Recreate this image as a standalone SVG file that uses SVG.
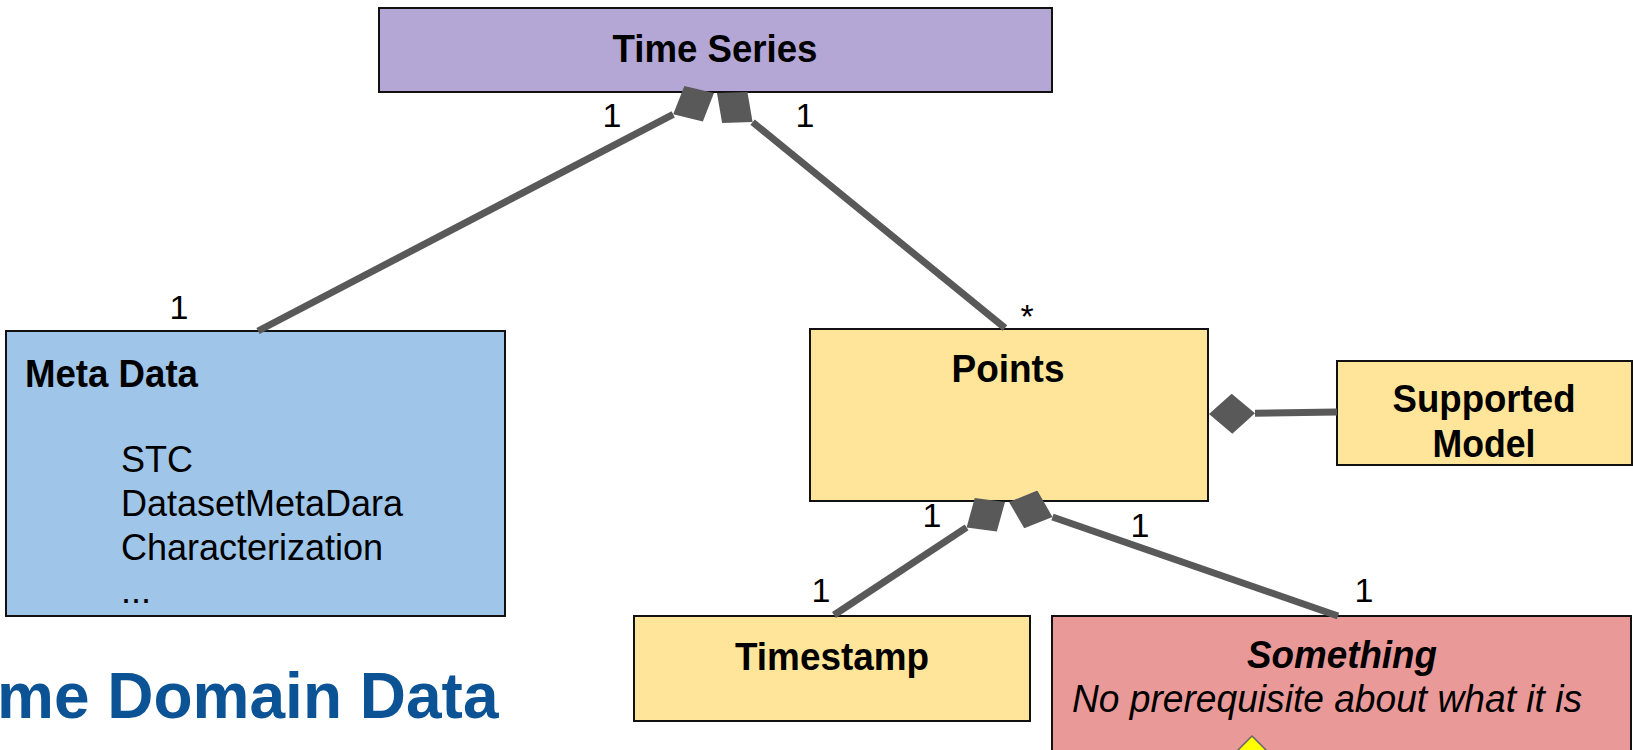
<svg xmlns="http://www.w3.org/2000/svg" width="1633" height="750" viewBox="0 0 1633 750">
<style>
.box{stroke:#111;stroke-width:2}
.t{font-family:"Liberation Sans",Arial,sans-serif;fill:#000}
.b{font-weight:bold;font-size:39px;text-anchor:middle}
.r{font-size:36px}
.m{font-size:34px;text-anchor:middle}
.conn{stroke:#595959;stroke-width:7;fill:none}
</style>
<defs>
<marker id="dia" viewBox="0 0 46 40" refX="0" refY="20" markerWidth="46" markerHeight="40" markerUnits="userSpaceOnUse" orient="auto">
<path d="M0,20 L23,0 L46,20 L23,40 Z" fill="#595959"/>
</marker>
</defs>
<rect width="1633" height="750" fill="#fff"/>

<text class="t" x="-3" y="718" font-size="64" font-weight="bold" style="fill:#0b5394">me Domain Data</text>

<g id="timeseries">
<rect class="box" x="379" y="8" width="673" height="84" fill="#b4a7d6"/>
<text class="t b" x="715" y="62" textLength="205" lengthAdjust="spacingAndGlyphs">Time Series</text>
</g>

<g id="metadata">
<rect class="box" x="6" y="331" width="499" height="285" fill="#9fc5e8"/>
<text class="t" x="25" y="387" font-size="39" font-weight="bold" textLength="173" lengthAdjust="spacingAndGlyphs">Meta Data</text>
<text class="t r" x="121" y="472">STC</text>
<text class="t r" x="121" y="516">DatasetMetaDara</text>
<text class="t r" x="121" y="560">Characterization</text>
<text class="t r" x="121" y="603">...</text>
</g>

<g id="points">
<rect class="box" x="810" y="329" width="398" height="172" fill="#ffe599"/>
<text class="t b" x="1008" y="382" textLength="113" lengthAdjust="spacingAndGlyphs">Points</text>
</g>

<g id="supportedmodel">
<rect class="box" x="1337" y="361" width="295" height="104" fill="#ffe599"/>
<text class="t b" x="1484" y="412" textLength="183" lengthAdjust="spacingAndGlyphs">Supported</text>
<text class="t b" x="1484" y="457" textLength="103" lengthAdjust="spacingAndGlyphs">Model</text>
</g>

<g id="timestamp">
<rect class="box" x="634" y="616" width="396" height="105" fill="#ffe599"/>
<text class="t b" x="832" y="670" textLength="194" lengthAdjust="spacingAndGlyphs">Timestamp</text>
</g>

<g id="something">
<rect class="box" x="1052" y="616" width="579" height="150" fill="#ea9999"/>
<text class="t b" x="1342" y="668" font-style="italic" textLength="190" lengthAdjust="spacingAndGlyphs">Something</text>
<text class="t" x="1327" y="712" font-size="38" font-style="italic" text-anchor="middle" textLength="510" lengthAdjust="spacingAndGlyphs">No prerequisite about what it is</text>
<polygon points="1252,736 1232,756 1272,756" fill="#ffff00" stroke="#666" stroke-width="1.5"/>
</g>

<g id="connectors">
<path class="conn" d="M258,331 L673.2,114.3" marker-end="url(#dia)"/>
<path class="conn" d="M1005,328 L752.6,122.1" marker-end="url(#dia)"/>
<path class="conn" d="M834,615 L966.6,527.4" marker-end="url(#dia)"/>
<path class="conn" d="M1338,616 L1052.5,517.0" marker-end="url(#dia)"/>
<path class="conn" d="M1337,412 L1255,413.3" marker-end="url(#dia)"/>
</g>

<g id="labels">
<text class="t m" x="612" y="127">1</text>
<text class="t m" x="805" y="127">1</text>
<text class="t m" x="179" y="319">1</text>
<text class="t m" x="1027" y="328">*</text>
<text class="t m" x="932" y="527">1</text>
<text class="t m" x="1140" y="537">1</text>
<text class="t m" x="821" y="602">1</text>
<text class="t m" x="1364" y="602">1</text>
</g>
</svg>
